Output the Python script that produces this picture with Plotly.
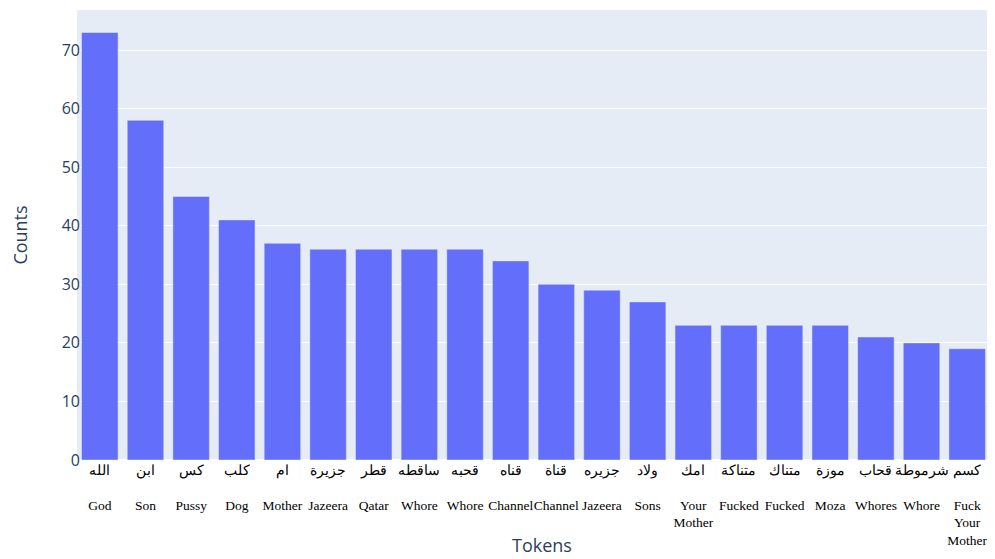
import plotly.graph_objects as go

arabic = ["الله", "ابن", "كس", "كلب", "ام", "جزيرة", "قطر", "ساقطه", "قحبه", "قناه",
          "قناة", "جزيره", "ولاد", "امك", "متناكة", "متناك", "موزة", "قحاب", "شرموطة", "كسم"]
english = ["God", "Son", "Pussy", "Dog", "Mother", "Jazeera", "Qatar", "Whore", "Whore", "Channel",
           "Channel", "Jazeera", "Sons", "Your<br>Mother", "Fucked", "Fucked", "Moza", "Whores", "Whore",
           "Fuck<br>Your<br>Mother"]
counts = [73, 58, 45, 41, 37, 36, 36, 36, 36, 34, 30, 29, 27, 23, 23, 23, 23, 21, 20, 19]

labels = [f"{a}<br><br>{e}" for a, e in zip(arabic, english)]

fig = go.Figure(go.Bar(x=labels, y=counts, marker_color="#636efa"))
fig.update_layout(
    template="plotly",
    width=995, height=559,
    margin=dict(l=69, r=13, t=2, b=107),
    showlegend=False,
    annotations=[dict(
        text="Tokens", xref="paper", yref="paper", x=0.509, y=0,
        xanchor="center", yanchor="middle", yshift=-85, showarrow=False,
        font=dict(size=18, color="#2a3f5f"),
    )],
)
fig.update_xaxes(
    automargin=False,
    tickfont=dict(family="Liberation Serif, Times New Roman, serif", size=13.5, color="black"),
    tickangle=0,
)
fig.update_yaxes(
    automargin=False,
    title=dict(text="Counts", font=dict(size=18), standoff=30),
    tickfont=dict(size=16),
    ticklabelstandoff=-4,
)
fig.write_html("out.html")
